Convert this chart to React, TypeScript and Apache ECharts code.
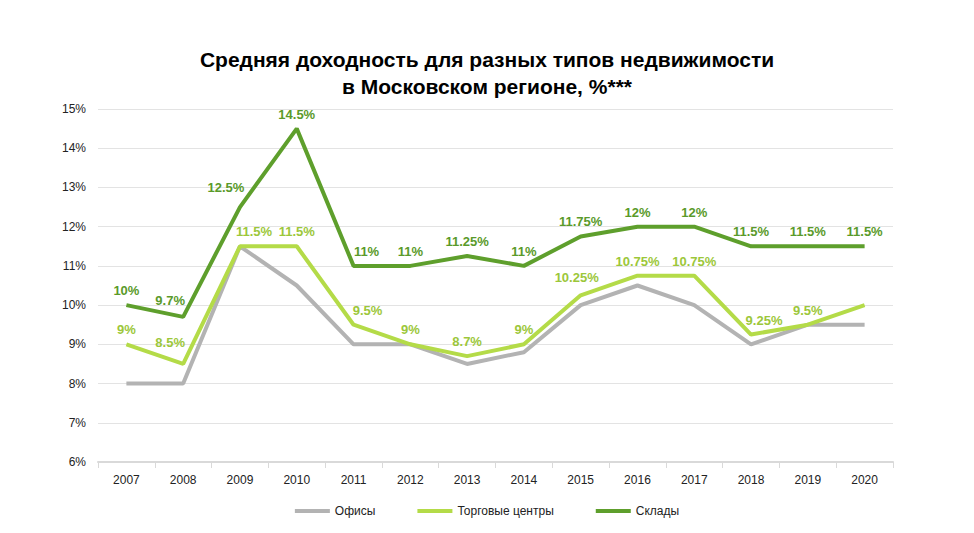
import React, { useEffect, useRef } from "react";
import * as echarts from "echarts";

const years = ["2007","2008","2009","2010","2011","2012","2013","2014","2015","2016","2017","2018","2019","2020"];
const offices = [8, 8, 11.5, 10.5, 9, 9, 8.5, 8.8, 10, 10.5, 10, 9, 9.5, 9.5];
const retail = [9, 8.5, 11.5, 11.5, 9.5, 9, 8.7, 9, 10.25, 10.75, 10.75, 9.25, 9.5, 10];
const retailLabelShown = [true, true, true, true, true, true, true, true, true, true, true, true, true, false];
const warehouses = [10, 9.7, 12.5, 14.5, 11, 11, 11.25, 11, 11.75, 12, 12, 11.5, 11.5, 11.5];
const seriesNames = ["Офисы", "Торговые центры", "Склады"];

export default function App() {
  const ref = useRef<HTMLDivElement>(null);
  useEffect(() => {
    if (!ref.current) return;
    const chart = echarts.init(ref.current, undefined, { renderer: "svg" });
    const font = "'Liberation Sans', Arial, sans-serif";
    // label nudges (layout only), keyed by point index
    const retailNudge: Record<number, [number, number]> = { 1: [-13, -7], 2: [14, 0], 11: [13, 0], 4: [14, 0], 8: [-4, -3] };
    const whNudge: Record<number, [number, number]> = { 1: [-13, -2], 2: [-14, -5], 4: [13, 0] };
    const nudgeLayout = (nudge: Record<number, [number, number]>) => (p: any) => {
      const n = nudge[p.dataIndex] || [0, 0];
      return { dx: n[0], dy: n[1], hideOverlap: false };
    };
    const labelStyle = (color: string) => ({
      show: true,
      position: "top" as const,
      distance: 8,
      color,
      fontSize: 13,
      fontWeight: "bold" as const,
      fontFamily: font,
      formatter: (p: any) => p.value + "%",
    });
    chart.setOption({
      animation: false,
      textStyle: { fontFamily: font },
      title: {
        text: "Средняя доходность для разных типов недвижимости\nв Московском регионе, %***",
        left: "center",
        top: 33,
        textStyle: { fontSize: 21, fontWeight: "bold", color: "#000", lineHeight: 27, fontFamily: font },
      },
      grid: { left: 90, right: 73, top: 101, bottom: 63 },
      legend: {
        bottom: 3,
        left: "center",
        itemWidth: 35,
        itemHeight: 4,
        itemGap: 42,
        icon: "rect",
        textStyle: { fontSize: 12, color: "#222", fontFamily: font },
        data: seriesNames,
      },
      xAxis: {
        type: "category",
        data: years,
        boundaryGap: true,
        axisLine: { lineStyle: { color: "#d9d9d9", width: 2 } },
        axisTick: { show: true, length: 6, lineStyle: { color: "#d9d9d9" } },
        axisLabel: { color: "#222", fontSize: 12, margin: 12 },
      },
      yAxis: {
        type: "value",
        min: 6,
        max: 15,
        interval: 1,
        axisLine: { show: false },
        axisTick: { show: false },
        axisLabel: { color: "#222", fontSize: 12, formatter: "{value}%", margin: 12 },
        splitLine: { lineStyle: { color: "#e3e3e3", width: 1 } },
      },
      series: [
        {
          name: seriesNames[0],
          type: "line",
          data: offices,
          symbol: "none",
          lineStyle: { color: "#b3b3b3", width: 4 },
          itemStyle: { color: "#b3b3b3" },
          z: 1,
        },
        {
          name: seriesNames[1],
          type: "line",
          data: retail.map((v, i) => ({
            value: v,
            label: { show: retailLabelShown[i] },
          })),
          symbol: "circle",
          symbolSize: 0,
          showSymbol: true,
          lineStyle: { color: "#b4db48", width: 4 },
          itemStyle: { color: "#b4db48" },
          label: labelStyle("#9cc73a"),
          labelLayout: nudgeLayout(retailNudge),
          z: 2,
        },
        {
          name: seriesNames[2],
          type: "line",
          data: warehouses,
          symbol: "circle",
          symbolSize: 0,
          showSymbol: true,
          lineStyle: { color: "#5e9f2c", width: 4 },
          itemStyle: { color: "#5e9f2c" },
          label: labelStyle("#5a9a2a"),
          labelLayout: nudgeLayout(whNudge),
          z: 3,
        },
      ],
    });
    return () => chart.dispose();
  }, []);
  return <div ref={ref} style={{ width: 958, height: 517 }} />;
}
